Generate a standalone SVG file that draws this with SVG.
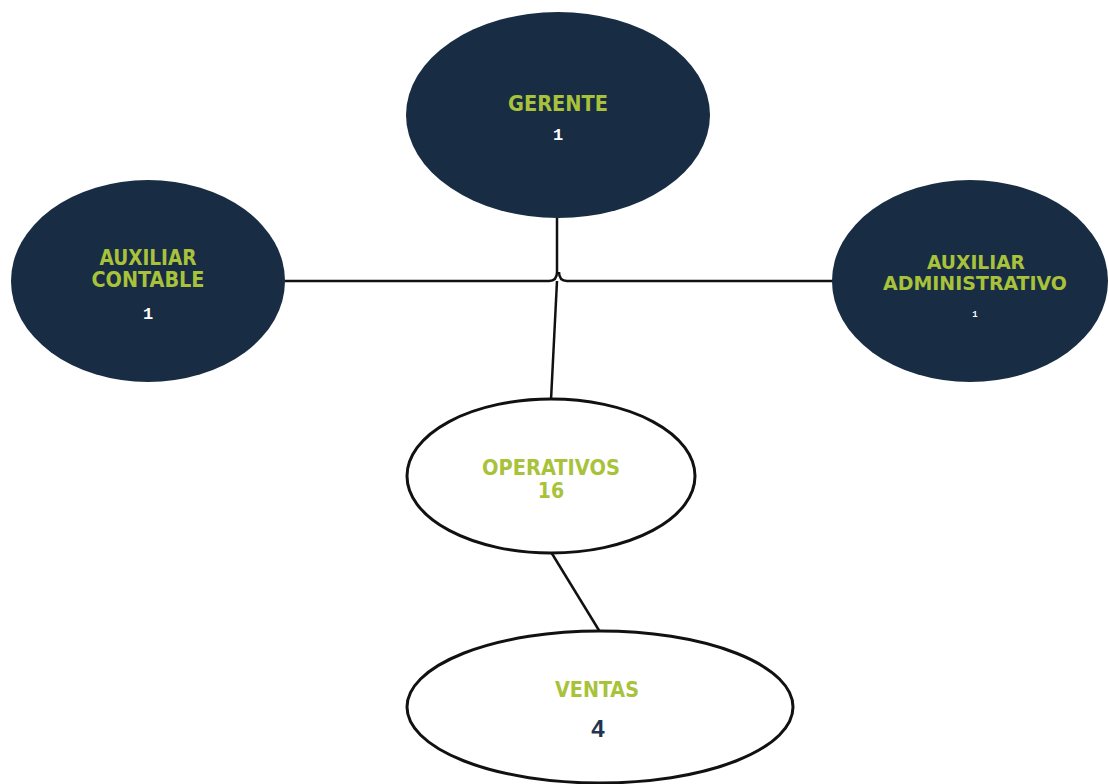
<svg xmlns="http://www.w3.org/2000/svg" width="1109" height="784" viewBox="0 0 1109 784">
<style>
.dark{fill:#182c44;stroke:none}
.light{fill:#ffffff;stroke:#111;stroke-width:3}
.lbl{font-family:"DejaVu Sans Condensed","DejaVu Sans",sans-serif;font-stretch:condensed;font-weight:bold;fill:#a8c23a;text-anchor:middle;font-size:21px}
.num{font-family:"Liberation Mono",monospace;font-weight:bold;fill:#ffffff;text-anchor:middle;font-size:17px}
.con{fill:none;stroke:#111;stroke-width:2.5}
</style>
<rect width="1109" height="784" fill="#ffffff"/>
<g id="connectors">
<path class="con" d="M285,281 H549 Q557,281 557,272 V216"/>
<path class="con" d="M833,281 H567 Q559,281 559,272"/>
<path class="con" d="M557,281 L551,400"/>
<path class="con" d="M551,552 L600,632"/>
</g>
<g id="gerente">
<ellipse class="dark" cx="558" cy="115" rx="152" ry="103"/>
<text class="lbl" x="558" y="111" textLength="100" lengthAdjust="spacingAndGlyphs">GERENTE</text>
<text class="num" x="558" y="140">1</text>
</g>
<g id="auxiliar-contable">
<ellipse class="dark" cx="148" cy="281" rx="137" ry="101"/>
<text class="lbl" x="148" y="265" textLength="97" lengthAdjust="spacingAndGlyphs">AUXILIAR</text>
<text class="lbl" x="148" y="287" textLength="113" lengthAdjust="spacingAndGlyphs">CONTABLE</text>
<text class="num" x="148" y="319">1</text>
</g>
<g id="auxiliar-administrativo">
<ellipse class="dark" cx="970" cy="281" rx="138" ry="101"/>
<text class="lbl" x="976" y="269" style="font-size:19px" textLength="98" lengthAdjust="spacingAndGlyphs">AUXILIAR</text>
<text class="lbl" x="975" y="290" style="font-size:19px" textLength="184" lengthAdjust="spacingAndGlyphs">ADMINISTRATIVO</text>
<text class="num" x="975" y="317" style="font-size:9px">1</text>
</g>
<g id="operativos">
<ellipse class="light" cx="551" cy="476" rx="144" ry="77"/>
<text class="lbl" x="551" y="475" textLength="138" lengthAdjust="spacingAndGlyphs">OPERATIVOS</text>
<text class="lbl" x="551" y="498">16</text>
</g>
<g id="ventas">
<ellipse class="light" cx="600" cy="707" rx="193" ry="76"/>
<text class="lbl" x="597" y="697" textLength="84" lengthAdjust="spacingAndGlyphs">VENTAS</text>
<text x="598" y="737" style="font-family:'Liberation Sans',sans-serif;font-weight:bold;font-size:24px;fill:#1f3550;text-anchor:middle">4</text>
</g>
</svg>
